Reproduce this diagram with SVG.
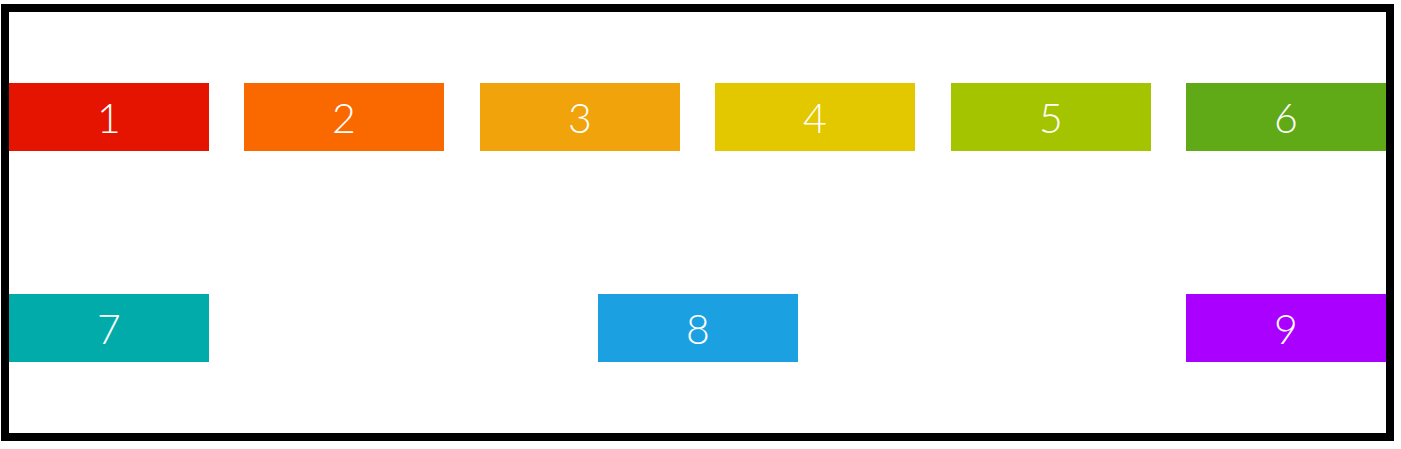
<svg xmlns="http://www.w3.org/2000/svg" width="1401" height="449" viewBox="0 0 1401 449">
<style>
.b rect{width:200px;height:68px}
.t{font-family:Lato,"Liberation Sans",sans-serif;font-weight:300;font-size:41px;fill:#fff;text-anchor:middle}
</style>
<rect x="0" y="0" width="1401" height="449" fill="#fff"/>
<rect x="5" y="8" width="1385" height="429" fill="none" stroke="#000" stroke-width="8"/>
<g id="n1"><rect x="9" y="83" width="200" height="68" fill="#e51400"/><text class="t" x="109" y="133">1</text></g>
<g id="n2"><rect x="244" y="83" width="200" height="68" fill="#fa6800"/><text class="t" x="344" y="133">2</text></g>
<g id="n3"><rect x="480" y="83" width="200" height="68" fill="#f0a30a"/><text class="t" x="580" y="133">3</text></g>
<g id="n4"><rect x="715" y="83" width="200" height="68" fill="#e3c800"/><text class="t" x="815" y="133">4</text></g>
<g id="n5"><rect x="951" y="83" width="200" height="68" fill="#a4c400"/><text class="t" x="1051" y="133">5</text></g>
<g id="n6"><rect x="1186" y="83" width="200" height="68" fill="#60a917"/><text class="t" x="1286" y="133">6</text></g>
<g id="n7"><rect x="9" y="294" width="200" height="68" fill="#00aba9"/><text class="t" x="109" y="344">7</text></g>
<g id="n8"><rect x="598" y="294" width="200" height="68" fill="#1ba1e2"/><text class="t" x="698" y="344">8</text></g>
<g id="n9"><rect x="1186" y="294" width="200" height="68" fill="#aa00ff"/><text class="t" x="1286" y="344">9</text></g>
<g id="connectors"></g>
</svg>
